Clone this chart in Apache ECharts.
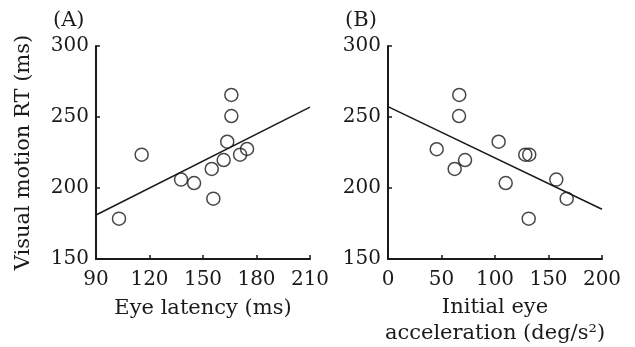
<!DOCTYPE html>
<html>
<head>
<meta charset="utf-8">
<script src="https://cdn.jsdelivr.net/npm/echarts@6/dist/echarts.min.js"></script>
<style>
  html, body { margin: 0; padding: 0; background: #fff; }
  #chart { width: 635px; height: 347px; }
</style>
</head>
<body>
<div id="chart"></div>
<script>
  // panel A: eye latency vs RT
  const latency = [102.9, 115.6, 137.7, 145.0, 154.9, 155.8, 161.6, 163.6, 165.9, 165.9, 170.8, 174.7];
  const rtA = [178.4, 223.5, 205.9, 203.5, 213.4, 192.5, 219.7, 232.6, 265.5, 250.7, 223.5, 227.5];
  // panel B: initial eye acceleration vs RT
  const accel = [45.5, 62.3, 66.6, 66.4, 72.0, 103.4, 110.0, 128.3, 132.0, 131.5, 157.3, 167.0];
  const rtB = [227.3, 213.4, 265.5, 250.7, 219.7, 232.6, 203.5, 223.5, 223.5, 178.4, 205.9, 192.5];
  // regression lines (end points)
  const fitAX = [90, 210];
  const fitAY = [181, 257];
  const fitBX = [0, 200];
  const fitBY = [257.3, 185];

  const font = 'DejaVu Serif';
  const ink = '#1a1a1a';

  const zip = (xs, ys) => xs.map((x, i) => [x, ys[i]]);

  const chart = echarts.init(document.getElementById('chart'));

  function xAxisOf(idx, min, max, interval, name, gap) {
    return {
      gridIndex: idx,
      type: 'value',
      min: min,
      max: max,
      interval: interval,
      name: name,
      nameLocation: 'middle',
      nameGap: gap,
      nameTextStyle: { fontFamily: font, fontSize: 21, color: ink, lineHeight: 26 },
      axisLine: { show: true, onZero: false, lineStyle: { color: ink, width: 2 } },
      axisTick: { show: true, inside: true, length: 4, lineStyle: { color: ink, width: 1.5 } },
      axisLabel: { fontFamily: font, fontSize: 20, color: ink, margin: 11 },
      splitLine: { show: false }
    };
  }

  function yAxisOf(idx, name) {
    return {
      gridIndex: idx,
      type: 'value',
      min: 150,
      max: 300,
      interval: 50,
      name: name,
      nameLocation: 'middle',
      nameGap: 62,
      nameTextStyle: { fontFamily: font, fontSize: 21, color: ink },
      axisLine: { show: true, onZero: false, lineStyle: { color: ink, width: 2 } },
      axisTick: { show: true, inside: true, length: 4, lineStyle: { color: ink, width: 1.5 } },
      axisLabel: { fontFamily: font, fontSize: 20, color: ink, margin: 7 },
      splitLine: { show: false }
    };
  }

  const circle = {
    type: 'scatter',
    symbol: 'circle',
    symbolSize: 13,
    itemStyle: { color: 'rgba(255,255,255,0)', borderColor: ink, borderWidth: 1.5 },
    z: 3
  };

  const fit = {
    type: 'line',
    symbol: 'none',
    lineStyle: { color: ink, width: 1.5 },
    z: 2
  };

  const option = {
    backgroundColor: '#fff',
    animation: false,
    title: [
      { text: '(A)', left: 48, top: 5, textStyle: { fontFamily: font, fontSize: 21, fontWeight: 'normal', color: ink } },
      { text: '(B)', left: 340, top: 5, textStyle: { fontFamily: font, fontSize: 21, fontWeight: 'normal', color: ink } }
    ],
    grid: [
      { left: 96, top: 46, width: 214, height: 213, outerBoundsMode: 'none' },
      { left: 388, top: 46, width: 214, height: 213, outerBoundsMode: 'none' }
    ],
    xAxis: [
      xAxisOf(0, 90, 210, 30, 'Eye latency (ms)', 37),
      xAxisOf(1, 0, 200, 50, 'Initial eye\nacceleration (deg/s²)', 33)
    ],
    yAxis: [
      yAxisOf(0, 'Visual motion RT (ms)'),
      yAxisOf(1, '')
    ],
    series: [
      Object.assign({}, fit, { xAxisIndex: 0, yAxisIndex: 0, data: zip(fitAX, fitAY) }),
      Object.assign({}, circle, { xAxisIndex: 0, yAxisIndex: 0, data: zip(latency, rtA) }),
      Object.assign({}, fit, { xAxisIndex: 1, yAxisIndex: 1, data: zip(fitBX, fitBY) }),
      Object.assign({}, circle, { xAxisIndex: 1, yAxisIndex: 1, data: zip(accel, rtB) })
    ]
  };

  chart.setOption(option);
</script>
</body>
</html>
